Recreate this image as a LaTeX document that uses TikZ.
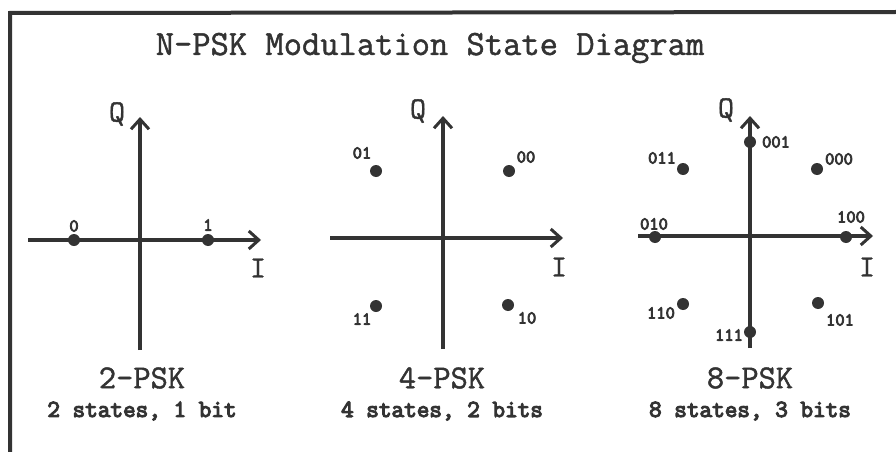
\documentclass[tikz,border=0pt]{standalone}
\usepackage{fontspec}
\newfontfamily\lmreg{Latin Modern Mono}[FakeBold=1.3]
\newfontfamily\lmbold{Latin Modern Mono}[FakeBold=4.5]
\usetikzlibrary{arrows.meta}
\definecolor{ink}{HTML}{333333}
\tikzset{
  axis/.style={draw=ink, line width=3.5pt, -{Straight Barb[length=10pt,width=18pt,line width=3pt]}},
  dot/.style={circle, fill=ink, inner sep=0pt, minimum size=12pt},
  ptlabel/.style={font=\lmbold\fontsize{18}{18}\selectfont, text=ink, inner sep=0pt},
  axlabel/.style={font=\lmreg\fontsize{31}{31}\selectfont, text=ink, inner sep=0pt},
  title/.style={font=\lmreg\fontsize{35.5}{35.5}\selectfont, text=ink, inner sep=0pt},
  psk/.style={font=\lmreg\fontsize{33.5}{33.5}\selectfont, text=ink, inner sep=0pt},
  info/.style={font=\lmbold\fontsize{24.5}{24.5}\selectfont, text=ink, inner sep=0pt},
  frame/.style={draw=ink, line width=4pt}
}
\begin{document}
\begin{tikzpicture}[x=1pt,y=-1pt]
\useasboundingbox (0,0) rectangle (896,452);
% frame
\coordinate (fb) at (10,452);
\coordinate (fc) at (10,13);
\coordinate (fr) at (896,12);
\draw[frame] (fb) -- (fc) -- (fr);
\node[title] (t) at (430,48) {N-PSK Modulation State Diagram};

% ---- 2-PSK
\coordinate (a1l) at (28,240);
\coordinate (a1r) at (261,240);
\coordinate (a1b) at (140,350);
\coordinate (a1t) at (140,117);
\draw[axis] (a1l) -- (a1r);
\draw[axis] (a1b) -- (a1t);
\node[axlabel] (q1) at (117,114) {Q};
\node[axlabel] (i1) at (258,268) {I};
\node[dot] (p0) at (74,240) {};
\node[dot] (p1) at (208,240) {};
\node[ptlabel] (l0) at (74,226) {0};
\node[ptlabel] (l1) at (208,225) {1};
\node[psk] (n1) at (142,378) {2-PSK};
\node[info] (s1) at (142,411) {2 states, 1 bit};

% ---- 4-PSK
\coordinate (a2l) at (330,238);
\coordinate (a2r) at (563,238);
\coordinate (a2b) at (443,349);
\coordinate (a2t) at (443,116);
\draw[axis] (a2l) -- (a2r);
\draw[axis] (a2b) -- (a2t);
\node[axlabel] (q2) at (418,111) {Q};
\node[axlabel] (i2) at (559,267) {I};
\node[dot] (d01) at (376,171) {};
\node[dot] (d00) at (509,171) {};
\node[dot] (d11) at (376,306) {};
\node[dot] (d10) at (508,305) {};
\node[ptlabel] (l01) at (362,153) {01};
\node[ptlabel] (l00) at (526,157) {00};
\node[ptlabel] (l11) at (362,319) {11};
\node[ptlabel] (l10) at (527,318) {10};
\node[psk] (n2) at (442,378) {4-PSK};
\node[info] (s2) at (442,411) {4 states, 2 bits};

% ---- 8-PSK
\coordinate (a3l) at (638,236);
\coordinate (a3r) at (873,236);
\coordinate (a3b) at (750,348);
\coordinate (a3t) at (750,116);
\draw[axis] (a3l) -- (a3r);
\draw[axis] (a3b) -- (a3t);
\node[axlabel] (q3) at (726,110) {Q};
\node[axlabel] (i3) at (867,267) {I};
\node[dot] (e001) at (750,142) {};
\node[dot] (e000) at (817,169) {};
\node[dot] (e011) at (683,169) {};
\node[dot] (e010) at (655,237) {};
\node[dot] (e100) at (846,237) {};
\node[dot] (e110) at (683,304) {};
\node[dot] (e101) at (818,303) {};
\node[dot] (e111) at (750,332) {};
\node[ptlabel] (m001) at (776,142) {001};
\node[ptlabel] (m000) at (839,159) {000};
\node[ptlabel] (m011) at (662,158) {011};
\node[ptlabel] (m010) at (654,224) {010};
\node[ptlabel] (m100) at (851,217) {100};
\node[ptlabel] (m110) at (661,313) {110};
\node[ptlabel] (m101) at (840,320) {101};
\node[ptlabel] (m111) at (729,335) {111};
\node[psk] (n3) at (750,378) {8-PSK};
\node[info] (s3) at (750,411) {8 states, 3 bits};
\end{tikzpicture}
\end{document}
